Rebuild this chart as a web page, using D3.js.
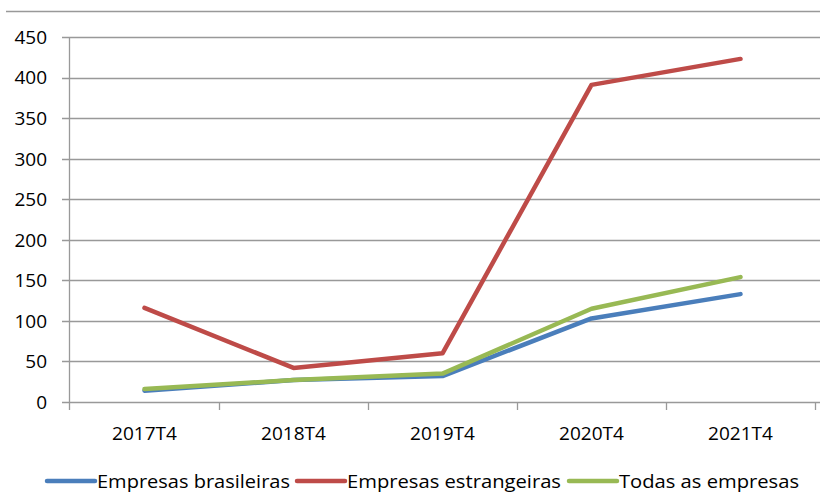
<!DOCTYPE html>
<html>
<head>
<meta charset="utf-8">
<script src="https://cdn.jsdelivr.net/npm/d3@7"></script>
<style>
body { margin: 0; background: #fff; }
svg { display: block; font-family: "Open Sans", "Liberation Sans", sans-serif; }
</style>
</head>
<body>
<script>
var periods = ["2017T4", "2018T4", "2019T4", "2020T4", "2021T4"];
var brasileiras = [14, 27, 32, 103, 133];
var estrangeiras = [116, 42, 60, 391, 423];
var todas = [16, 27, 35, 115, 154];
var yTicks = [0, 50, 100, 150, 200, 250, 300, 350, 400, 450];
var seriesNames = ["Empresas brasileiras", "Empresas estrangeiras", "Todas as empresas"];
var colors = ["#4a7ebb", "#be4b48", "#98b954"];

var width = 820, height = 493;
var svg = d3.select("body").append("svg").attr("width", width).attr("height", height);

var x = d3.scaleBand().domain(periods).range([70, 815]);
var y = d3.scaleLinear().domain([0, 450]).range([402, 37]);

// frame line at top
svg.append("line").attr("x1", 6).attr("x2", 820).attr("y1", 11.5).attr("y2", 11.5)
	.attr("stroke", "#999").attr("stroke-width", 1.3);

// grid
svg.append("g").selectAll("line").data(yTicks).enter().append("line")
	.attr("x1", 62).attr("x2", 820)
	.attr("y1", function(d){ return Math.round(y(d)) + 0.5; })
	.attr("y2", function(d){ return Math.round(y(d)) + 0.5; })
	.attr("stroke", "#999").attr("stroke-width", 1.3);

// y labels
svg.append("g").selectAll("text").data(yTicks).enter().append("text")
	.attr("x", 47).attr("y", function(d){ return y(d); })
	.attr("dy", "0.36em").attr("text-anchor", "end")
	.attr("font-size", 19).attr("fill", "#000")
	.text(function(d){ return d; });

// y axis line
svg.append("line").attr("x1", 69.5).attr("x2", 69.5).attr("y1", 37).attr("y2", 410)
	.attr("stroke", "#999").attr("stroke-width", 1.3);

// x ticks at band boundaries
var bounds = periods.map(function(p){ return x(p) + x.bandwidth(); });
svg.append("g").selectAll("line").data(bounds).enter().append("line")
	.attr("x1", function(d){ return Math.round(d) + 0.5; })
	.attr("x2", function(d){ return Math.round(d) + 0.5; })
	.attr("y1", 402).attr("y2", 410)
	.attr("stroke", "#999").attr("stroke-width", 1.3);

// x labels
svg.append("g").selectAll("text").data(periods).enter().append("text")
	.attr("x", function(d){ return x(d) + x.bandwidth() / 2; })
	.attr("y", 440).attr("text-anchor", "middle")
	.attr("font-size", 19).attr("fill", "#000")
	.text(function(d){ return d; });

// lines
var line = d3.line()
	.x(function(d, i){ return x(periods[i]) + x.bandwidth() / 2; })
	.y(function(d){ return y(d); });

[brasileiras, estrangeiras, todas].forEach(function(s, i){
	svg.append("path").datum(s)
		.attr("d", line)
		.attr("fill", "none")
		.attr("stroke", colors[i])
		.attr("stroke-width", 4.5)
		.attr("stroke-linejoin", "round")
		.attr("stroke-linecap", "round");
});

// legend
var legX = [47, 297, 569], legW = [193, 214, 180];
seriesNames.forEach(function(name, i){
	var g = svg.append("g").attr("transform", "translate(" + legX[i] + ",481)");
	g.append("line").attr("x1", 0).attr("x2", 48).attr("y1", 0).attr("y2", 0)
		.attr("stroke", colors[i]).attr("stroke-width", 4.5).attr("stroke-linecap", "round");
	g.append("text").attr("x", 50).attr("y", 0).attr("dy", "0.36em")
		.attr("font-size", 19).attr("fill", "#000")
		.attr("textLength", legW[i]).attr("lengthAdjust", "spacingAndGlyphs")
		.text(name);
});
</script>
</body>
</html>
